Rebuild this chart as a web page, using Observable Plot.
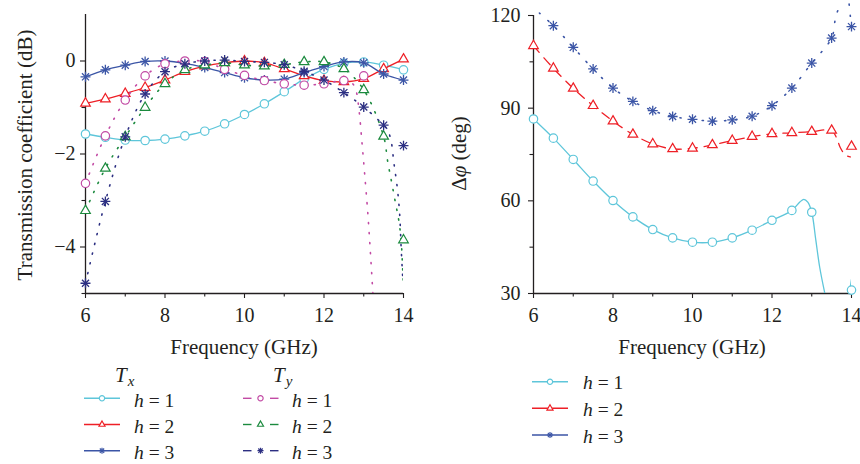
<!DOCTYPE html>
<html><head><meta charset="utf-8">
<script src="https://cdn.jsdelivr.net/npm/d3@7"></script>
<script src="https://cdn.jsdelivr.net/npm/@observablehq/plot@0.6"></script>
<style>
body{margin:0;background:#fff;}
#wrap{position:relative;width:860px;height:464px;font-family:"Liberation Serif","Times New Roman",serif;overflow:hidden;}
#wrap svg{position:absolute;overflow:visible;font-family:"Liberation Serif","Times New Roman",serif;}
#wrap svg text{font-family:"Liberation Serif","Times New Roman",serif;}
</style></head><body><div id="wrap"></div>
<script>
// ---------- data ----------
const freqs = [6,6.5,7,7.5,8,8.5,9,9.5,10,10.5,11,11.5,12,12.5,13,13.5,14];
const xMajor = [6,8,10,12,14];
const xMinor = [7,9,11,13];
const leftYMajor = [-4,-2,0];
const leftYMinor = [-5,-3,-1];
const rightYMajor = [30,60,90,120];
const rightYMinor = [45,75,105];

// Left panel: transmission coefficient (dB), markers every 0.5 GHz
const txH1 = [-1.57,-1.64,-1.70,-1.71,-1.68,-1.61,-1.51,-1.35,-1.15,-0.92,-0.66,-0.39,-0.18,-0.05,-0.02,-0.09,-0.19];
const txH2 = [-0.91,-0.82,-0.70,-0.57,-0.41,-0.23,-0.11,-0.04,0.0,-0.04,-0.17,-0.32,-0.42,-0.45,-0.38,-0.17,0.04];
const txH3 = [-0.34,-0.19,-0.09,-0.01,0.0,-0.05,-0.14,-0.25,-0.36,-0.41,-0.39,-0.25,-0.12,-0.02,-0.04,-0.28,-0.41];
const tyH1 = [-2.63,-1.61,-0.84,-0.32,-0.06,0.0,-0.01,-0.18,-0.31,-0.42,-0.49,-0.52,-0.49,-0.42,-0.32,null,null];
const tyH2 = [-3.22,-2.31,-1.63,-1.0,-0.49,-0.19,-0.09,-0.04,-0.09,-0.11,-0.08,-0.02,-0.02,-0.17,-0.62,-1.62,-3.85];
const tyH3 = [-4.78,-3.02,-1.63,-0.71,-0.23,-0.06,0.0,0.02,-0.01,-0.03,-0.08,-0.22,-0.41,-0.68,-0.99,-1.38,-1.82];
// Ty curve tails (where the curve leaves the markers)
const tyH1TailF = [12.7,12.8,12.88,12.95,13.02,13.1,13.17,13.23];
const tyH1TailV = [-0.47,-0.62,-1.05,-1.7,-2.4,-3.25,-4.15,-5.0];
const tyH2TailF = [13.6,13.7,13.8,13.88,13.94,13.98,14.0];
const tyH2TailV = [-2.15,-2.6,-3.06,-3.42,-3.85,-4.5,-4.85];
const tyH3TailF = [13.6,13.69,13.76,13.84,13.9,13.94,13.97,13.99];
const tyH3TailV = [-1.48,-1.73,-2.2,-2.7,-3.25,-4.0,-4.5,-4.8];

// Right panel: phase difference (deg)
const phH1 = [86.5,80.3,73.4,66.4,60.1,54.8,50.7,48.0,46.6,46.6,48.0,50.5,53.7,56.9,56.3,null,31.1];
const phH2 = [110.2,102.9,96.4,90.8,85.8,81.5,78.4,76.8,77.0,78.1,79.5,80.8,81.7,82.0,82.4,82.8,77.6];
const phH3 = [null,116.7,109.7,102.7,96.5,92.2,89.2,87.3,86.4,85.8,86.2,87.4,90.8,96.5,104.6,112.7,116.4];
const phH1TailF = [12.7,12.8,12.9,13.0,13.1,13.2,13.33,13.6,13.95,14.0];
const phH1TailV = [59.6,60.5,59.6,56.3,47.5,38.5,30,null,30.3,34.6];
const phH2TailF = [13.62,13.72,13.85,13.97];
const phH2TailV = [80.5,77.2,74.8,74.2];
const phH3HeadF = [6.15];
const phH3HeadV = [120.8];
const phH3TailF = [13.6,13.69,13.8,13.94,13.97,14.0];
const phH3TailV = [119.4,122.8,null,123.7,119.9,116.4];

const legendLabels = ["h = 1","h = 2","h = 3"];

// ---------- helpers ----------
const FONT = '"Liberation Serif", "Times New Roman", serif';
const C = {tx1:"#5ec6da", tx2:"#ee1f26", tx3:"#3b55a6", ty1:"#c24aa4", ty2:"#1b8a3e", ty3:"#2c2f82"};
const pts = (fs, vs) => fs.map((f,i)=>({f, v: vs[i]}));
const markers = (vs) => pts(freqs, vs).filter(d => d.v != null);
const lineWith = (vs, upto, tf, tv, hf=[], hv=[]) =>
  pts(hf,hv).concat(pts(freqs, vs).filter(d => d.f <= upto && d.v != null), pts(tf, tv));

function symbolMarks(data, sym, color, r) {
  if (sym === "star") return [
    Plot.dot(data, {x:"f", y:"v", symbol:"plus", r, stroke:color, strokeWidth:1.3}),
    Plot.dot(data, {x:"f", y:"v", symbol:"times", r, stroke:color, strokeWidth:1.3})
  ];
  return [Plot.dot(data, {x:"f", y:"v", symbol: sym, r, stroke:color, fill:"white", strokeWidth:1.2})];
}
const SYM_R = {circle:4.2, triangle2:4.6, star:3.3};

function axes(yMajor, yMinor, yDomainMin, tickPadY) {
  return [
    Plot.axisX(xMajor, {tickSize:5, tickPadding:9, fontSize:20, label:null, strokeWidth:1.1}),
    Plot.axisX(xMinor, {tickSize:3.5, tickFormat:()=>"", label:null, strokeWidth:1.1}),
    Plot.axisY(yMajor, {tickSize:5, tickPadding:tickPadY, fontSize:20, label:null, strokeWidth:1.1}),
    Plot.axisY(yMinor, {tickSize:3.5, tickFormat:()=>"", label:null, strokeWidth:1.1}),
    Plot.ruleX([6], {stroke:"#231f20", strokeWidth:1.3}),
    Plot.ruleY([yDomainMin], {stroke:"#231f20", strokeWidth:1.3})
  ];
}
const plotStyle = {fontFamily:FONT, fontSize:"20px", color:"#231f20", background:"transparent", overflow:"visible"};

// ---------- left chart ----------
const dotted = "1.2,8.8";
const left = Plot.plot({
  width:430, height:360, marginLeft:85, marginRight:27, marginTop:14, marginBottom:67,
  style: plotStyle,
  x:{domain:[6,14]}, y:{domain:[-5,1]},
  marks:[
    ...axes(leftYMajor, leftYMinor, -5, 5),
    Plot.line(markers(txH1), {x:"f", y:"v", stroke:C.tx1, strokeWidth:1.3, curve:"catmull-rom"}),
    ...symbolMarks(markers(txH1), "circle", C.tx1, SYM_R.circle),
    Plot.line(markers(txH2), {x:"f", y:"v", stroke:C.tx2, strokeWidth:1.3, curve:"catmull-rom"}),
    ...symbolMarks(markers(txH2), "triangle2", C.tx2, SYM_R.triangle2),
    Plot.line(markers(txH3), {x:"f", y:"v", stroke:C.tx3, strokeWidth:1.3, curve:"catmull-rom"}),
    ...symbolMarks(markers(txH3), "star", C.tx3, SYM_R.star),
    Plot.line(lineWith(tyH1, 12.5, tyH1TailF, tyH1TailV), {x:"f", y:"v", stroke:C.ty1, strokeWidth:1.6, strokeDasharray:dotted, curve:"catmull-rom", clip:true}),
    ...symbolMarks(markers(tyH1), "circle", C.ty1, SYM_R.circle),
    Plot.line(lineWith(tyH2, 13.5, tyH2TailF, tyH2TailV), {x:"f", y:"v", stroke:C.ty2, strokeWidth:1.6, strokeDasharray:dotted, curve:"catmull-rom", clip:true}),
    ...symbolMarks(markers(tyH2), "triangle2", C.ty2, SYM_R.triangle2),
    Plot.line(lineWith(tyH3, 13.5, tyH3TailF, tyH3TailV), {x:"f", y:"v", stroke:C.ty3, strokeWidth:1.6, strokeDasharray:dotted, curve:"catmull-rom", clip:true}),
    ...symbolMarks(markers(tyH3), "star", C.ty3, SYM_R.star)
  ]
});

// ---------- right chart ----------
const right = Plot.plot({
  width:430, height:360, marginLeft:103, marginRight:9, marginTop:15, marginBottom:67,
  style: plotStyle,
  x:{domain:[6,14]}, y:{domain:[30,120]},
  marks:[
    ...axes(rightYMajor, rightYMinor, 30, 8),
    Plot.line(lineWith(phH1, 12.5, phH1TailF, phH1TailV), {x:"f", y:"v", stroke:C.tx1, strokeWidth:1.3, curve:"catmull-rom", clip:true}),
    ...symbolMarks(markers(phH1), "circle", C.tx1, SYM_R.circle),
    Plot.line(lineWith(phH2, 13.5, phH2TailF, phH2TailV), {x:"f", y:"v", stroke:C.tx2, strokeWidth:1.3, strokeDasharray:"9,7", curve:"catmull-rom"}),
    ...symbolMarks(markers(phH2), "triangle2", C.tx2, SYM_R.triangle2),
    Plot.line(lineWith(phH3, 13.5, phH3TailF, phH3TailV, phH3HeadF, phH3HeadV), {x:"f", y:"v", stroke:C.tx3, strokeWidth:1.6, strokeDasharray:"1.2,10", curve:"catmull-rom"}),
    ...symbolMarks(markers(phH3), "star", C.tx3, SYM_R.star)
  ]
});

const wrap = document.getElementById("wrap");
left.style.left = "0px"; left.style.top = "0px";
right.style.left = "430px"; right.style.top = "0px";
wrap.appendChild(left); wrap.appendChild(right);

// axis titles
function addText(svg, x, y, parts, rotate) {
  const t = d3.select(svg).append("text")
    .attr("transform", `translate(${x},${y})` + (rotate ? ` rotate(${rotate})` : ""))
    .attr("text-anchor","middle").attr("fill","#231f20")
    .style("font-family",FONT).style("font-size","21px").style("white-space","pre");
  parts.forEach(p => t.append("tspan").attr("font-style", p.i ? "italic" : "normal").text(p.t));
}
addText(left, 32, 155, [{t:"Transmission coefficient (dB)"}], -90);
addText(left, 244, 354, [{t:"Frequency (GHz)"}]);
addText(right, 36, 153.5, [{t:"Δ"},{t:"φ",i:true},{t:" (deg)"}], -90);
addText(right, 262, 354, [{t:"Frequency (GHz)"}]);

// ---------- legend ----------
const leg = d3.select(wrap).append("svg").attr("width",860).attr("height",104)
  .style("left","0px").style("top","360px")
  .style("font-family",FONT);
const symPath = (type, size) => d3.symbol(type, size)();
function legSym(g, type, color, x, y) {
  if (type === "star") {
    g.append("path").attr("d", symPath(d3.symbolPlus, 14)).attr("transform",`translate(${x},${y})`).attr("stroke",color).attr("stroke-width",1.2).attr("fill","none");
    g.append("path").attr("d", symPath(d3.symbolTimes, 14)).attr("transform",`translate(${x},${y})`).attr("stroke",color).attr("stroke-width",1.2).attr("fill","none");
  } else {
    const t = type === "circle" ? d3.symbolCircle : d3.symbolTriangle2;
    const s = type === "circle" ? 22 : 26;
    g.append("path").attr("d", symPath(t, s)).attr("transform",`translate(${x},${y})`).attr("stroke",color).attr("stroke-width",1.2).attr("fill","white");
  }
}
function legText(x, y, label) {
  const t = leg.append("text").attr("x",x).attr("y",y).attr("fill","#231f20").style("font-family",FONT).style("font-size","19.5px").style("white-space","pre");
  t.append("tspan").attr("font-style","italic").text(label[0]);
  t.append("tspan").text(label.slice(1));
}
function legTitle(x, y, sub) {
  const t = leg.append("text").attr("x",x).attr("y",y).attr("fill","#231f20").style("font-family",FONT).style("white-space","pre");
  t.append("tspan").attr("font-style","italic").style("font-size","21px").text("T");
  t.append("tspan").attr("font-style","italic").style("font-size","15px").attr("dy",4).attr("dx",1).text(sub);
}
const types = ["circle","triangle2","star"];
legTitle(115, 22, "x");
legTitle(273, 22, "y");
const txCols = [C.tx1, C.tx2, C.tx3], tyCols = [C.ty1, C.ty2, C.ty3];
const rowY = [38.3, 64.5, 90.7];
rowY.forEach((y, i) => {
  leg.append("line").attr("x1",84).attr("x2",120).attr("y1",y).attr("y2",y).attr("stroke",txCols[i]).attr("stroke-width",1.4);
  legSym(leg, types[i], txCols[i], 102, y);
  legText(134, y + 8.4, legendLabels[i]);
  leg.append("line").attr("x1",243).attr("x2",251.5).attr("y1",y).attr("y2",y).attr("stroke",tyCols[i]).attr("stroke-width",1.4);
  leg.append("line").attr("x1",270).attr("x2",278.5).attr("y1",y).attr("y2",y).attr("stroke",tyCols[i]).attr("stroke-width",1.4);
  legSym(leg, types[i], tyCols[i], 260.5, y);
  legText(292, y + 8.4, legendLabels[i]);
});
const rRowY = [21.7, 48.3, 75];
rRowY.forEach((y, i) => {
  leg.append("line").attr("x1",532).attr("x2",568).attr("y1",y).attr("y2",y).attr("stroke",txCols[i]).attr("stroke-width",1.4);
  legSym(leg, types[i], txCols[i], 550, y);
  legText(583, y + 7.5, legendLabels[i]);
});
</script>
</body></html>
